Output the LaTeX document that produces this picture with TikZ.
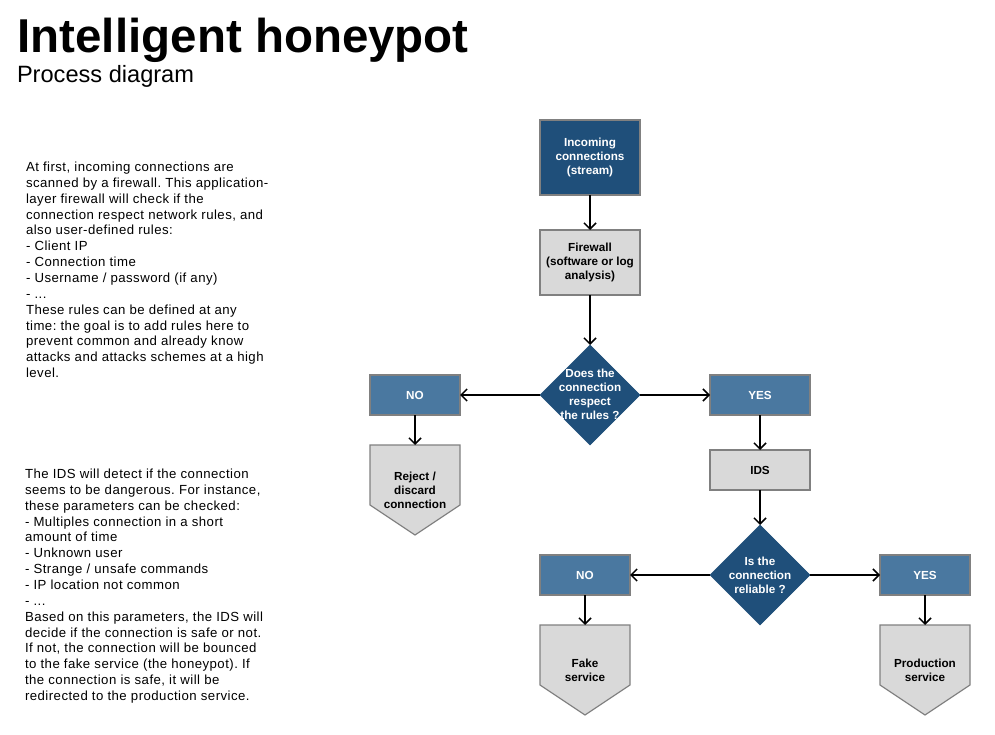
\documentclass[tikz,border=0pt]{standalone}
\usepackage{fontspec}
\setmainfont{Liberation Sans}
\newfontfamily\notefamily[LetterSpace=3.5]{Liberation Sans}
\usetikzlibrary{arrows.meta,shapes.geometric,backgrounds}
\definecolor{darkblue}{RGB}{31,79,122}
\definecolor{midblue}{RGB}{74,120,160}
\definecolor{lightgrey}{RGB}{217,217,217}
\definecolor{edgegrey}{RGB}{128,128,128}
\newcommand\boxfont{\bfseries\fontsize{11.7}{14}\selectfont}
\newcommand\notefont{\notefamily\frenchspacing\fontsize{13.2}{15.85}\selectfont}
\begin{document}
\begin{tikzpicture}[x=1pt,y=-1pt,
  every node/.style={inner sep=0pt, outer sep=0pt},
  boxbase/.style={rectangle, draw=edgegrey, line width=1.2pt, align=center, font=\boxfont},
  darkbox/.style={boxbase, fill=darkblue, text=white},
  greybox/.style={boxbase, fill=lightgrey, text=black},
  answerbox/.style={boxbase, fill=midblue, text=white},
  decision/.style={diamond, fill=darkblue, draw=darkblue, line width=0.4pt, minimum width=100pt, minimum height=100pt},
  dectext/.style={align=center, text=white, font=\boxfont},
  endtext/.style={align=center, font=\boxfont, minimum width=90pt, minimum height=90pt},
  endshape/.style={fill=lightgrey, draw=edgegrey, line width=1.2pt, line join=miter},
  flow/.style={-{Straight Barb[length=6pt,width=12pt]}, line width=1.5pt},
  note/.style={anchor=north west, align=left, font=\notefont}]

\useasboundingbox (0,0) rectangle (995,735);

% titles
\node[anchor=base west, font=\bfseries\fontsize{47.5}{56}\selectfont] (title) at (17.5,53) {Intelligent honeypot};
\node[anchor=base west, font=\fontsize{23.6}{28}\selectfont] (subtitle) at (17,83) {Process diagram};

% notes
\node[note] (note1) at (26,162) {At first, incoming connections are\\
scanned by a firewall. This application-\\
layer firewall will check if the\\
connection respect network rules, and\\
also user-defined rules:\\
- Client IP\\
- Connection time\\
- Username / password (if any)\\
- ...\\
These rules can be defined at any\\
time: the goal is to add rules here to\\
prevent common and already know\\
attacks and attacks schemes at a high\\
level.};

\node[note] (note2) at (25,469) {The IDS will detect if the connection\\
seems to be dangerous. For instance,\\
these parameters can be checked:\\
- Multiples connection in a short\\
amount of time\\
- Unknown user\\
- Strange / unsafe commands\\
- IP location not common\\
- ...\\
Based on this parameters, the IDS will\\
decide if the connection is safe or not.\\
If not, the connection will be bounced\\
to the fake service (the honeypot). If\\
the connection is safe, it will be\\
redirected to the production service.};

% flow nodes
\node[darkbox, minimum width=100pt, minimum height=75pt] (inc) at (590,157.5) {Incoming\\connections\\(stream)};
\node[greybox, minimum width=100pt, minimum height=65pt] (fw) at (590,262.5) {Firewall\\(software or log\\analysis)};
\node[decision] (d1) at (590,395) {};
\node[dectext] (d1t) at (590,394) {Does the\\connection\\respect\\the rules ?};
\node[answerbox, minimum width=90pt, minimum height=40pt] (no1) at (415,395) {NO};
\node[answerbox, minimum width=100pt, minimum height=40pt] (yes1) at (760,395) {YES};
\node[endtext] (rej) at (415,490) {Reject /\\discard\\connection};
\node[greybox, minimum width=100pt, minimum height=40pt] (ids) at (760,470) {IDS};
\node[decision] (d2) at (760,575) {};
\node[dectext] (d2t) at (760,575) {Is the\\connection\\reliable ?};
\node[answerbox, minimum width=90pt, minimum height=40pt] (no2) at (585,575) {NO};
\node[answerbox, minimum width=90pt, minimum height=40pt] (yes2) at (925,575) {YES};
\node[endtext] (fake) at (585,670) {Fake\\service};
\node[endtext] (prod) at (925,670) {Production\\service};

% end shapes (pentagons)
\begin{scope}[on background layer]
  \fill[white] (0,0) rectangle (995,735);
  \foreach \n in {rej,fake,prod}{
    \draw[endshape] (\n.north west) -- (\n.north east) -- ([yshift=-60pt]\n.north east)
      -- (\n.south) -- ([yshift=-60pt]\n.north west) -- cycle;
  }
\end{scope}

% connectors
\draw[flow] (inc) -- (fw);
\draw[flow] (fw) -- (d1.north);
\draw[flow] (d1.west) -- (no1);
\draw[flow] (d1.east) -- (yes1);
\draw[flow] (no1) -- (rej.north);
\draw[flow] (yes1) -- (ids);
\draw[flow] (ids) -- (d2.north);
\draw[flow] (d2.west) -- (no2);
\draw[flow] (d2.east) -- (yes2);
\draw[flow] (no2) -- (fake.north);
\draw[flow] (yes2) -- (prod.north);
\end{tikzpicture}
\end{document}
